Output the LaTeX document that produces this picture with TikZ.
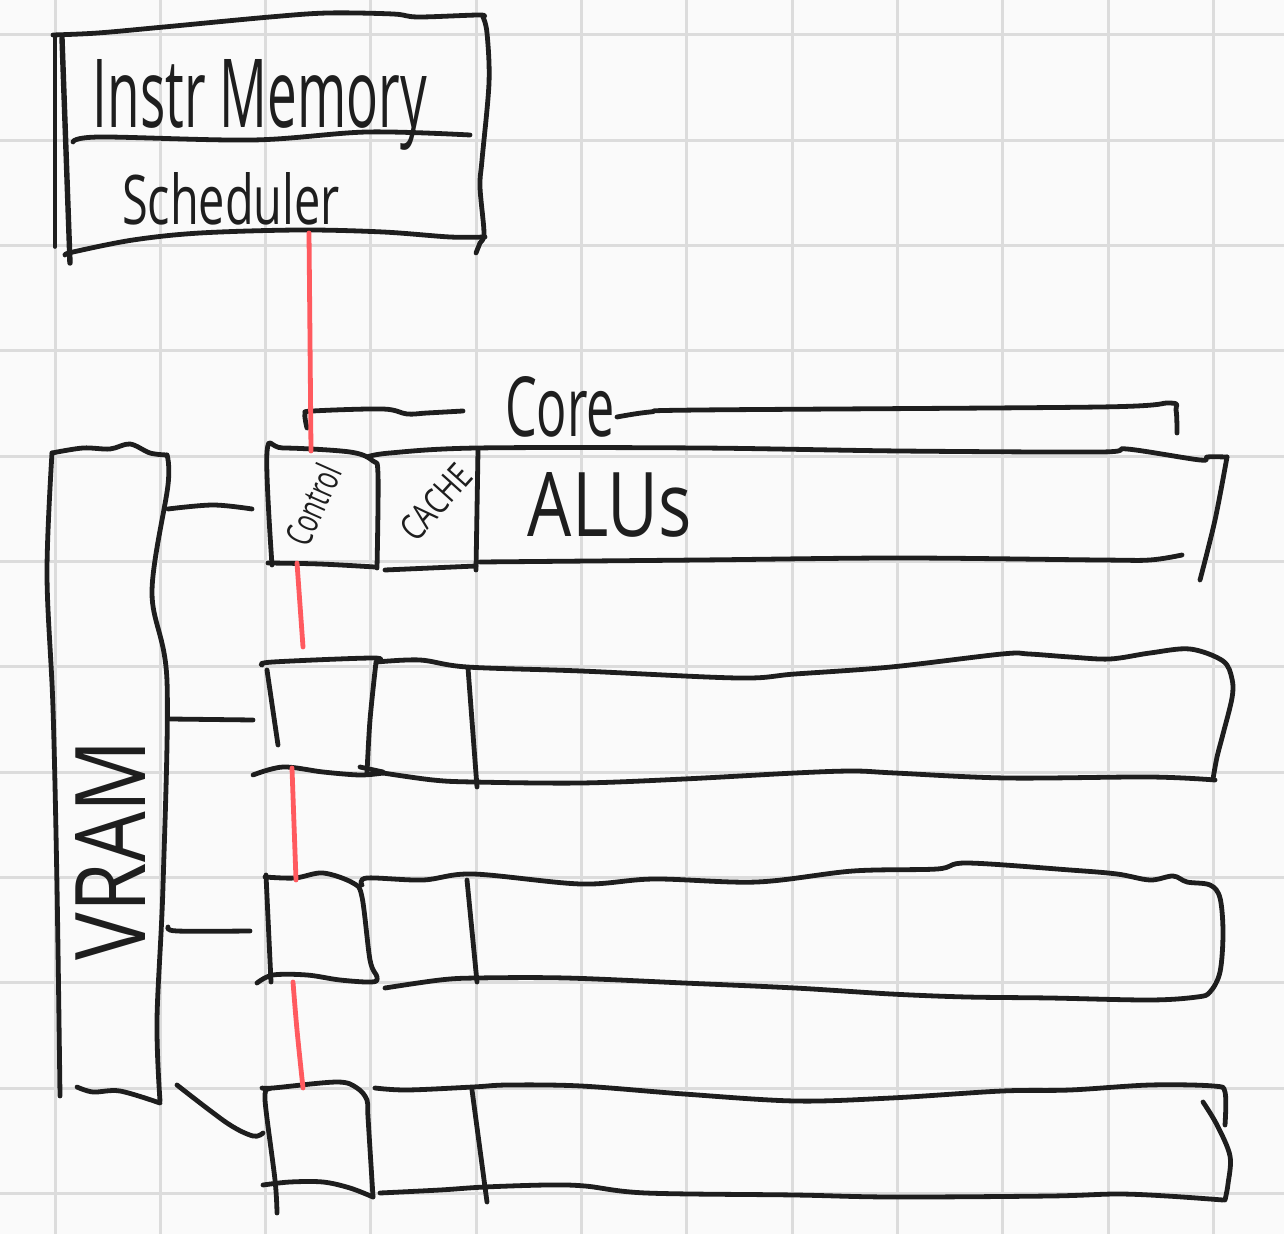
\documentclass[tikz,border=0pt]{standalone}
\usepackage{fontspec}
\setmainfont{Open Sans}
\usepackage{graphicx}
\definecolor{paper}{HTML}{FAFAFA}
\definecolor{gridc}{HTML}{DCDCDC}
\definecolor{inkc}{HTML}{1E1E1E}
\definecolor{redc}{HTML}{FF5A5F}
\begin{document}
\begin{tikzpicture}[x=0.5pt,y=-0.5pt,
  ink/.style={draw=inkc,line width=2.4pt,line cap=round,line join=round},
  thinink/.style={draw=inkc,line width=1.8pt,line cap=round,line join=round},
  redink/.style={draw=redc,line width=2.4pt,line cap=round},
  lbl/.style={inner sep=0pt,outer sep=0pt,text=inkc},
  hand/.style={smooth,tension=0.55}]
\useasboundingbox (0,0) rectangle (1284,1234);
\fill[paper] (0,0) rectangle (1284,1234);
\foreach \i in {0,...,11}{
  \draw[gridc,line width=1.5pt] ({55+105.3*\i},0) -- ({55+105.3*\i},1234);
  \draw[gridc,line width=1.5pt] (0,{35+105.3*\i}) -- (1284,{35+105.3*\i});
}

% ---------------- Instr Memory / Scheduler box
\draw[ink] plot[hand] coordinates {(53,35) (98,33) (164,27) (270,17) (328,13) (393,14) (418,17) (479,15) (483,17)};
\draw[ink] plot[hand] coordinates {(483,17) (487,33) (489,83) (482,160) (480,187) (484,233) (480,243) (476,253)};
\draw[thinink] (55,37) -- (55,247);
\draw[ink,line width=2.7pt] (62,38) -- (70,263);
\draw[ink] plot[hand] coordinates {(73,142) (100,137) (253,140) (367,132) (470,135)};
\draw[ink] plot[hand] coordinates {(65,255) (73,252) (133,240) (200,233) (300,230) (383,232) (450,237) (485,237)};
\node[lbl,anchor=base] (instr) at (260,128) {\resizebox{167pt}{34pt}{Instr Memory}};
\node[lbl,anchor=base] (sched) at (231,225) {\resizebox{109pt}{26pt}{Scheduler}};

% ---------------- Core bracket
\draw[ink] plot[hand] coordinates {(307,428) (305,414) (313,411) (383,409) (407,414) (427,413) (463,411)};
\draw[ink] plot[hand] coordinates {(617,417) (650,412) (700,410) (1100,407) (1170,403) (1176,410) (1177,433)};
\node[lbl,anchor=base] (core) at (560,437) {\resizebox{55pt}{30pt}{Core}};

% ---------------- VRAM
\draw[ink] plot[hand] coordinates {(52,453) (83,448) (110,449) (130,444) (150,453) (167,455)};
\draw[ink] plot[hand] coordinates {(52,453) (47,574) (53,708) (57,886) (60,1096)};
\draw[ink] plot[hand] coordinates {(167,455) (168,485) (152,592) (167,681) (163,886) (157,1020) (160,1101)};
\draw[ink] plot[hand] coordinates {(77,1087) (93,1092) (120,1091) (160,1103)};
\node[lbl,rotate=90] (vram) at (110,850) {\resizebox{110pt}{35pt}{VRAM}};

% named ends of connectors
\coordinate (v1) at (168,509); \coordinate (c1) at (252,509);
\coordinate (v2) at (170,719); \coordinate (c2) at (253,720);
\coordinate (v3) at (168,927); \coordinate (c3) at (250,931);
\coordinate (v4) at (177,1085); \coordinate (c4) at (263,1133);
\draw[ink] plot[hand] coordinates {(v1) (213,505) (c1)};
\draw[ink] (v2) -- (c2);
\draw[ink] plot[hand] coordinates {(v3) (177,931) (c3)};
\draw[ink] plot[hand] coordinates {(v4) (227,1123) (253,1136) (c4)};

% ---------------- Row 1
\draw[ink] plot[hand] coordinates {(272,565) (267,452) (283,448) (350,452) (373,461) (378,475) (377,568)};
\draw[ink] plot[hand] coordinates {(268,563) (320,564) (375,567)};
\draw[ink] plot[hand] coordinates {(367,457) (390,453) (477,448) (700,448) (900,451) (1100,452) (1127,449) (1200,460) (1207,457) (1227,457)};
\draw[ink] plot[hand] coordinates {(1227,457) (1215,520) (1200,580)};
\draw[ink] plot[hand] coordinates {(385,570) (476,566)};
\draw[ink] plot[hand] coordinates {(480,562) (700,560) (900,558) (1100,560) (1150,560) (1182,555)};
\draw[ink] (478,450) -- (476,570);
\node[lbl,rotate=66] (ctrl) at (313,505) {\resizebox{42pt}{14pt}{Control}};
\node[lbl,rotate=48] (cache) at (436,502) {\resizebox{44pt}{13pt}{CACHE}};
\node[lbl,anchor=base] (alus) at (610,537) {\resizebox{82pt}{32pt}{ALUs}};

% ---------------- Row 2
\draw[ink] plot[hand] coordinates {(262,665) (273,662) (373,658) (377,662)};
\draw[ink] (267,670) -- (278,745);
\draw[ink] plot[hand] coordinates {(376,662) (370,720) (367,773)};
\draw[ink] plot[hand] coordinates {(253,775) (283,767) (323,772) (360,775) (383,773)};
\draw[ink] (360,767) -- (383,772);
\draw[ink] plot[hand] coordinates {(377,662) (420,660) (467,667) (581,671) (738,678) (795,674) (891,667) (1002,654) (1029,654) (1070,657) (1110,659) (1150,653) (1190,649) (1223,661) (1232,679) (1232,698) (1223,734) (1217,757) (1213,779)};
\draw[ink] plot[hand] coordinates {(383,773) (433,780) (473,782) (581,783) (684,779) (795,773) (853,771) (895,773) (1006,778) (1150,777) (1215,780)};
\draw[ink] (468,668) -- (477,787);

% ---------------- Row 3
\draw[ink] (266,875) -- (271,982);
\draw[ink] plot[hand] coordinates {(265,877) (295,878) (323,873) (353,883) (362,897) (370,960) (377,977) (372,982) (340,980) (307,975) (273,975) (257,983)};
\draw[ink] plot[hand] coordinates {(362,885) (367,878) (423,880) (473,874) (581,884) (654,879) (757,882) (853,871) (937,869) (967,863) (1070,870) (1117,874) (1150,880) (1173,876) (1187,882) (1210,885) (1220,898) (1223,933) (1220,972) (1210,992) (1197,997) (1150,1000) (1050,998) (967,997) (891,994) (795,988) (684,983) (566,978) (477,978) (440,980) (385,988)};
\draw[ink] (467,880) -- (477,982);

% ---------------- Row 4
\draw[ink] plot[hand] coordinates {(269,1089) (265,1100) (275,1180) (277,1213)};
\draw[ink] plot[hand] coordinates {(262,1088) (273,1088) (337,1082) (357,1088) (367,1100) (368,1117) (373,1197)};
\draw[ink] plot[hand] coordinates {(263,1185) (290,1182) (323,1182) (350,1188) (373,1197)};
\draw[ink] plot[hand] coordinates {(375,1088) (407,1090) (473,1087) (508,1085) (581,1086) (684,1094) (795,1101) (891,1098) (1002,1091) (1070,1090) (1150,1085) (1213,1086) (1225,1092) (1225,1125)};
\draw[ink] plot[hand] coordinates {(1203,1102) (1217,1125) (1230,1156) (1228,1184) (1225,1200)};
\draw[ink] plot[hand] coordinates {(380,1193) (440,1190) (485,1187) (547,1185) (585,1186) (646,1193) (795,1195) (891,1197) (1050,1196) (1117,1194) (1167,1196) (1223,1200)};
\draw[ink] (472,1090) -- (487,1202);

% ---------------- red control line
\coordinate (s0) at (309,233);
\coordinate (k1) at (311,451);
\draw[redink] plot[hand] coordinates {(s0) (310,340) (k1)};
\draw[redink] (297,563) -- (303,647);
\draw[redink] (292,768) -- (296,880);
\draw[redink] plot[hand] coordinates {(293,982) (297,1030) (303,1088)};
\end{tikzpicture}
\end{document}
